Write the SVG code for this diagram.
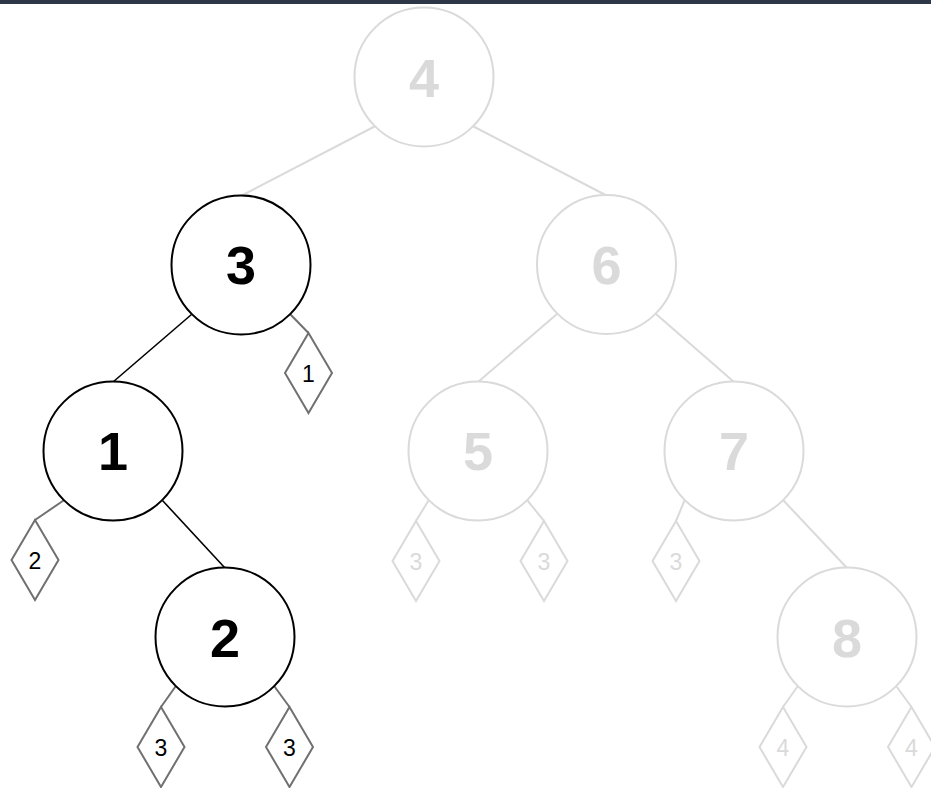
<svg xmlns="http://www.w3.org/2000/svg" width="931" height="788" viewBox="0 0 931 788">
<style>
.bg{fill:#ffffff}
.bar{fill:#2d3748}
.node{fill:#ffffff;stroke-width:2}
.on .node{stroke:#000000}
.off .node{stroke:#dadada}
.lbl{font-family:"Liberation Sans",Arial,sans-serif;font-weight:bold;font-size:54px;text-anchor:middle}
.on .lbl{fill:#000000}
.off .lbl{fill:#dadada}
.dia{fill:#ffffff;stroke-width:2}
.don .dia{stroke:#707070}
.doff .dia{stroke:#dadada}
.dl{font-family:"Liberation Sans",Arial,sans-serif;font-size:23px;text-anchor:middle}
.don .dl{fill:#000000}
.doff .dl{fill:#dadada}
.e{fill:none;stroke-width:2}
.eon{stroke:#000000;stroke-width:1.6}
.eoff{stroke:#dadada}
.egon{stroke:#707070}
</style>
<rect class="bg" x="0" y="0" width="931" height="788"/>
<rect class="bar" x="0" y="0" width="931" height="4"/>
<g id="connectors">
<line class="e eoff" x1="374.5" y1="126.5" x2="241" y2="196"/>
<line class="e eoff" x1="473.5" y1="126.5" x2="606.5" y2="195.5"/>
<line class="e eon" x1="191.5" y1="314.5" x2="113" y2="382"/>
<line class="e egon" x1="290.5" y1="314.5" x2="308.5" y2="333"/>
<line class="e eoff" x1="557" y1="314" x2="478" y2="382"/>
<line class="e eoff" x1="656" y1="314" x2="734" y2="382"/>
<line class="e egon" x1="63.5" y1="500.5" x2="35" y2="520"/>
<line class="e eon" x1="162.5" y1="500.5" x2="225" y2="568"/>
<line class="e eoff" x1="428.5" y1="500.5" x2="416" y2="521"/>
<line class="e eoff" x1="527.5" y1="500.5" x2="544" y2="521"/>
<line class="e eoff" x1="684.5" y1="500.5" x2="676" y2="521"/>
<line class="e eoff" x1="783.5" y1="500.5" x2="847" y2="568"/>
<line class="e egon" x1="175.5" y1="686.5" x2="161" y2="707"/>
<line class="e egon" x1="274.5" y1="686.5" x2="289.5" y2="707"/>
<line class="e eoff" x1="797.5" y1="686.5" x2="783" y2="707"/>
<line class="e eoff" x1="896.5" y1="686.5" x2="911.5" y2="707"/>
</g>
<g id="node4" class="off"><circle class="node" cx="424" cy="77" r="69.5"/><text class="lbl" x="424" y="97">4</text></g>
<g id="node3" class="on"><circle class="node" cx="241" cy="265" r="69.5"/><text class="lbl" x="241" y="284">3</text></g>
<g id="node6" class="off"><circle class="node" cx="606.5" cy="264.5" r="69.5"/><text class="lbl" x="606.5" y="284">6</text></g>
<g id="node1" class="on"><circle class="node" cx="113" cy="451" r="69.5"/><text class="lbl" x="113" y="470">1</text></g>
<g id="node5" class="off"><circle class="node" cx="478" cy="451" r="69.5"/><text class="lbl" x="478" y="470">5</text></g>
<g id="node7" class="off"><circle class="node" cx="734" cy="451" r="69.5"/><text class="lbl" x="734" y="470">7</text></g>
<g id="node2" class="on"><circle class="node" cx="225" cy="637" r="69.5"/><text class="lbl" x="225" y="657">2</text></g>
<g id="node8" class="off"><circle class="node" cx="847" cy="637" r="69.5"/><text class="lbl" x="847" y="657">8</text></g>
<g id="d3r" class="don"><polygon class="dia" points="308.5,333 332,373 308.5,413 285,373"/><text class="dl" x="308.5" y="382">1</text></g>
<g id="d1l" class="don"><polygon class="dia" points="35,520 58.5,560 35,600 11.5,560"/><text class="dl" x="35" y="569">2</text></g>
<g id="d2l" class="don"><polygon class="dia" points="161,707 184.5,747 161,787 137.5,747"/><text class="dl" x="161" y="756">3</text></g>
<g id="d2r" class="don"><polygon class="dia" points="289.5,707 313,747 289.5,787 266,747"/><text class="dl" x="289.5" y="756">3</text></g>
<g id="d5l" class="doff"><polygon class="dia" points="416,521 439.5,561 416,601 392.5,561"/><text class="dl" x="416" y="570">3</text></g>
<g id="d5r" class="doff"><polygon class="dia" points="544,521 567.5,561 544,601 520.5,561"/><text class="dl" x="544" y="570">3</text></g>
<g id="d7l" class="doff"><polygon class="dia" points="676,521 699.5,561 676,601 652.5,561"/><text class="dl" x="676" y="570">3</text></g>
<g id="d8l" class="doff"><polygon class="dia" points="783,707 806.5,747 783,787 759.5,747"/><text class="dl" x="783" y="756">4</text></g>
<g id="d8r" class="doff"><polygon class="dia" points="911.5,707 935,747 911.5,787 888,747"/><text class="dl" x="911.5" y="756">4</text></g>
</svg>
